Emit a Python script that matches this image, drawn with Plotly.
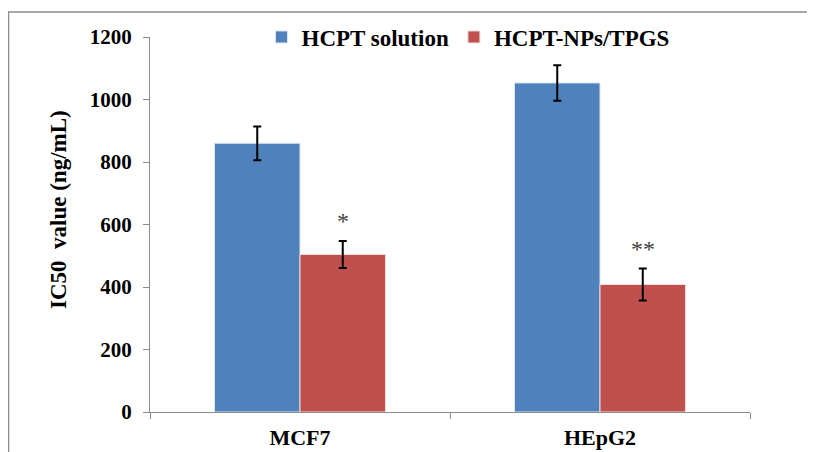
import plotly.graph_objects as go

categories = ["MCF7", "HEpG2"]
series_names = ["HCPT solution", "HCPT-NPs/TPGS"]
hcpt_solution = [860, 1053]
hcpt_solution_err = [54, 57]
hcpt_nps = [504, 408]
hcpt_nps_err = [43, 51]
sig_labels = ["*", "**"]
y_ticks = [0, 200, 400, 600, 800, 1000, 1200]
y_title = "IC50  value (ng/mL)"

FONT = "Liberation Serif"
W, H = 815, 452
# page has an 8px body margin, so figure coords = page coords - 8
L, R, T, B = 142, 73, 29, 48

fig = go.Figure()
fig.add_trace(go.Bar(
    x=categories, y=hcpt_solution, name=series_names[0],
    marker=dict(color="#4f81bd", line=dict(color="#dbe5f1", width=1)),
    error_y=dict(type="data", array=hcpt_solution_err, color="black", thickness=2, width=4),
))
fig.add_trace(go.Bar(
    x=categories, y=hcpt_nps, name=series_names[1],
    marker=dict(color="#c0504d", line=dict(color="#f2dcdb", width=1)),
    error_y=dict(type="data", array=hcpt_nps_err, color="black", thickness=2, width=4),
))

for i, (v, e, s) in enumerate(zip(hcpt_nps, hcpt_nps_err, sig_labels)):
    fig.add_annotation(
        x=categories[i], y=v + e, xshift=43, yshift=5, text=s, showarrow=False,
        yanchor="bottom", font=dict(family=FONT, size=24, color="#404040", weight="normal"),
    )

pw = W - L - R
ph = H - T - B

fig.add_annotation(
    xref="paper", yref="paper", x=(50 - L) / pw, y=(H - B - 202) / ph,
    text=y_title, textangle=-90, showarrow=False, xanchor="center", yanchor="middle",
    font=dict(family=FONT, size=23, color="black", weight="bold"),
)

fig.add_shape(
    type="rect", xref="paper", yref="paper",
    x0=(0.5 - L) / pw, x1=(W + 10 - L) / pw,
    y0=-(H + 10 - T - ph) / ph, y1=1 + (T - 4) / ph,
    line=dict(color="#8c8c8c", width=1.5), fillcolor="rgba(0,0,0,0)", layer="below",
)

bold = dict(family=FONT, size=21, color="black", weight="bold")

fig.update_layout(
    width=W, height=H,
    margin=dict(l=L, r=R, t=T, b=B, autoexpand=False),
    paper_bgcolor="white", plot_bgcolor="white",
    barmode="group", bargap=0.43, bargroupgap=0,
    font=bold,
    showlegend=True,
    legend=dict(orientation="h", x=0.53, xanchor="center", y=1.0, yanchor="middle",
                font=dict(family=FONT, size=23, color="black", weight="bold"),
                itemwidth=30, tracegroupgap=0, bgcolor="rgba(0,0,0,0)"),
    xaxis=dict(showline=True, linecolor="#8c8c8c", linewidth=1, ticks="outside",
               tickson="boundaries", ticklen=6, tickcolor="#8c8c8c", automargin=False,
               ticklabelstandoff=6,
               tickfont=dict(family=FONT, size=22, color="black", weight="bold"), showgrid=False),
    yaxis=dict(range=[0, 1200], tickvals=y_ticks, showline=True, linecolor="#8c8c8c",
               linewidth=1, ticks="outside", ticklen=6, tickcolor="#8c8c8c",
               showgrid=False, zeroline=False, automargin=False,
               ticklabelstandoff=7,
               tickfont=bold),
)

fig.write_html("out.html")
